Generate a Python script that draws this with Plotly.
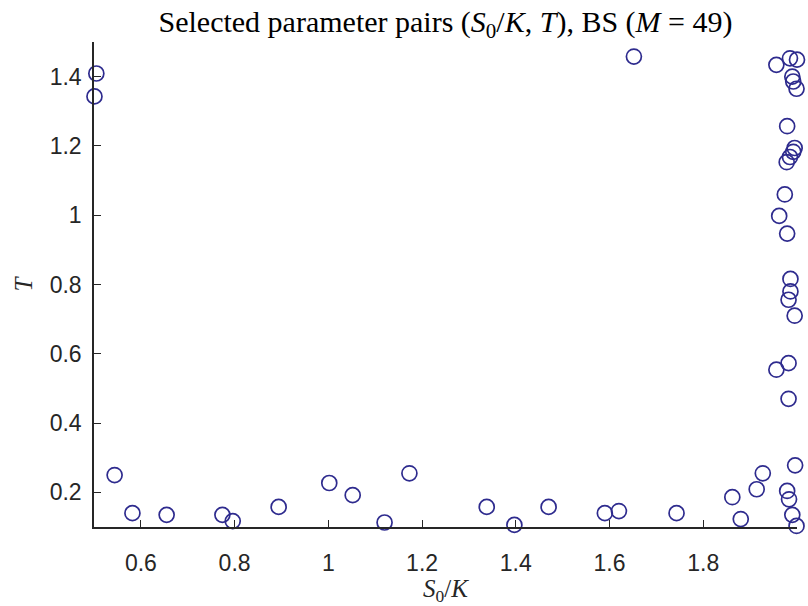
import plotly.graph_objects as go

# Selected (S0/K, T) pairs
s0k = [0.505, 0.501, 0.544, 0.582, 0.655, 0.774, 0.796, 0.894, 1.002, 1.052,
       1.120, 1.173, 1.338, 1.397, 1.470, 1.590, 1.620, 1.743, 1.862, 1.880,
       1.914, 1.927, 1.652,
       1.956, 1.985, 2.000, 1.990, 1.992, 1.999, 1.979, 1.995, 1.992, 1.985,
       1.978, 1.974, 1.962, 1.979, 1.986, 1.986, 1.982, 1.995, 1.956, 1.982,
       1.982, 1.996, 1.979, 1.983, 1.990, 1.999]
T = [1.409, 1.343, 0.250, 0.140, 0.135, 0.135, 0.117, 0.158, 0.227, 0.192,
     0.113, 0.255, 0.158, 0.106, 0.158, 0.140, 0.146, 0.140, 0.186, 0.123,
     0.209, 0.255, 1.458,
     1.434, 1.453, 1.449, 1.400, 1.386, 1.365, 1.257, 1.194, 1.183, 1.168,
     1.153, 1.060, 0.998, 0.947, 0.816, 0.780, 0.756, 0.710, 0.554, 0.573,
     0.470, 0.278, 0.204, 0.180, 0.135, 0.103]

x_ticks = [0.6, 0.8, 1.0, 1.2, 1.4, 1.6, 1.8]
x_ticklabels = ["0.6", "0.8", "1", "1.2", "1.4", "1.6", "1.8"]
y_ticks = [0.2, 0.4, 0.6, 0.8, 1.0, 1.2, 1.4]
y_ticklabels = ["0.2", "0.4", "0.6", "0.8", "1", "1.2", "1.4"]

marker_color = "#2E2B8E"
axis_color = "#262626"
serif = "Liberation Serif, DejaVu Serif, serif"
sans = "Liberation Sans, Arial, sans-serif"

fig = go.Figure(go.Scatter(
    x=s0k, y=T, mode="markers", cliponaxis=False,
    marker=dict(symbol="circle-open", size=15, color=marker_color,
                line=dict(width=1.7, color=marker_color)),
))

fig.update_layout(
    width=808, height=606,
    paper_bgcolor="white", plot_bgcolor="white",
    margin=dict(l=94, r=11, t=42, b=79),
    showlegend=False,
    title=dict(
        text="Selected parameter pairs (<i>S</i><sub>0</sub>/<i>K</i>, <i>T</i>), BS (<i>M</i> = 49)",
        x=0.5, xref="paper", xanchor="center",
        y=1 - 21 / 606, yref="container", yanchor="middle",
        font=dict(family=serif, size=30, color="black"),
    ),
)

fig.update_xaxes(
    range=[0.5, 2.0], showgrid=False, zeroline=False,
    showline=True, linecolor=axis_color, linewidth=1.5,
    ticks="inside", ticklen=7, tickwidth=1.3, tickcolor=axis_color,
    tickvals=x_ticks, ticktext=x_ticklabels,
    tickfont=dict(family=sans, size=23, color=axis_color),
    ticklabelstandoff=15,
    title=dict(text="<i>S</i><sub>0</sub>/<i>K</i>", standoff=0,
               font=dict(family=serif, size=25, color=axis_color)),
)
fig.update_yaxes(
    range=[0.1, 1.5], showgrid=False, zeroline=False,
    showline=True, linecolor=axis_color, linewidth=1.5,
    ticks="inside", ticklen=7, tickwidth=1.3, tickcolor=axis_color,
    tickvals=y_ticks, ticktext=y_ticklabels,
    tickfont=dict(family=sans, size=23, color=axis_color),
    ticklabelstandoff=6,
    title=dict(text="<i>T</i>", standoff=10,
               font=dict(family=serif, size=25, color=axis_color)),
)

# remove the browser's default 8px body margin so the figure fills the window
fig.write_html(
    "out.html",
    config={"displayModeBar": False},
    post_script="document.body.style.margin='0';document.body.style.overflow='hidden';",
)
